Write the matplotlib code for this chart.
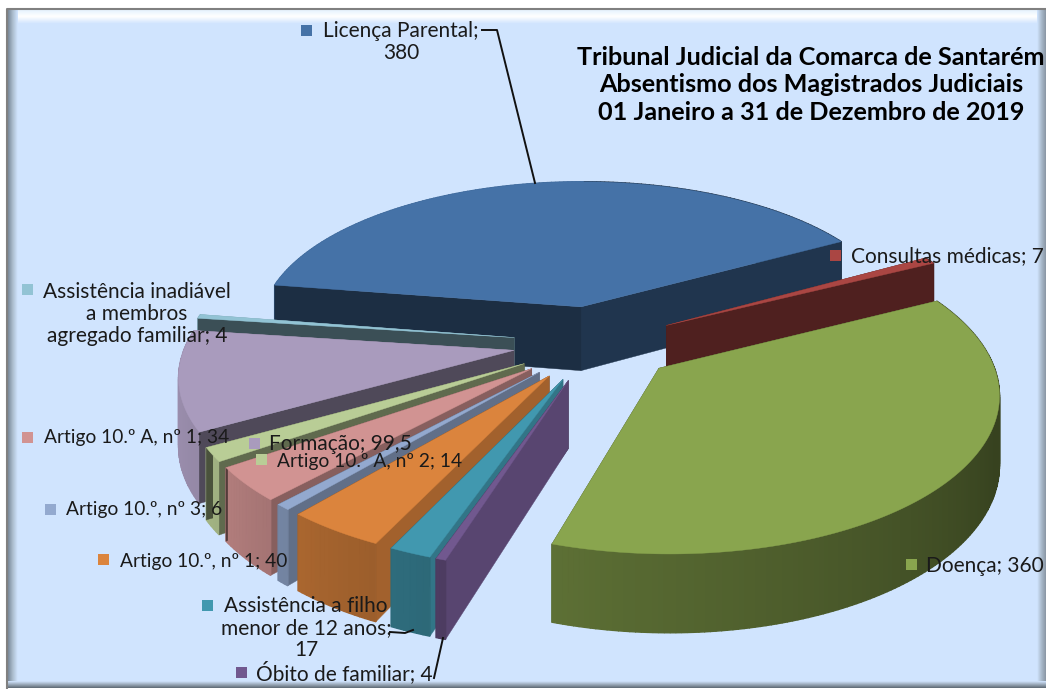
import numpy as np
import matplotlib
matplotlib.use("Agg")
import matplotlib.pyplot as plt
from matplotlib.patches import Polygon, Rectangle

# dados do grafico (sentido horario a partir da licenca parental)
categorias = ["Licença Parental", "Consultas médicas", "Doença", "Óbito de familiar",
              "Assistência a filho menor de 12 anos", "Artigo 10.º, nº 1", "Artigo 10.º, nº 3",
              "Artigo 10.º A, nº 1", "Artigo 10.º A, nº 2", "Formação",
              "Assistência inadiável a membros agregado familiar"]
valores = [380, 7, 360, 4, 17, 40, 6, 34, 14, 99.5, 4]
cores = ["#4572A7", "#AA4643", "#89A54E", "#71588F", "#4198AF", "#DB843D",
         "#93A9CF", "#D19392", "#B9CD96", "#A99BBD", "#92C3D4"]
titulo = "Tribunal Judicial da Comarca de Santarém\nAbsentismo dos Magistrados Judiciais\n01 Janeiro a 31 de Dezembro de 2019"

# rotulos: texto, posicao do texto, posicao do quadrado
rotulos_texto = ["Licença Parental;\n380", "Consultas médicas; 7", "Doença; 360", "Óbito de familiar; 4",
                 "Assistência a filho\nmenor de 12 anos;\n17", "Artigo 10.º, nº 1; 40", "Artigo 10.º, nº 3; 6",
                 "Artigo 10.º A, nº 1; 34", "Artigo 10.º A, nº 2; 14", "Formação; 99,5",
                 "Assistência inadiável\na membros\nagregado familiar; 4"]
rotulos_xy = [(401, 42), (947, 256), (985, 566), (344, 673), (306, 628), (204, 561), (144, 510),
              (137, 438), (370, 461), (340, 444), (137, 314)]
marcas_xy = [(306, 30), (835, 255), (911, 564), (241, 672), (207, 605), (103, 559), (50, 509),
             (27, 437), (261, 459), (254, 443), (27, 289)]

# projecao em perspectiva do disco
CX, CY = 595, 343
ESCALA_X, ESCALA_Y = 328, 152
PROF = 0.14
ALTURA = 66
EXPLOSAO = 0.25
INICIO = -81


def projeta(x, y, z=0.0):
    s = 1 / (1 + PROF * y)
    return CX + ESCALA_X * x * s, CY - ESCALA_Y * y * s + ALTURA * z * s


def escurece(cor, f):
    return tuple(c * f for c in matplotlib.colors.to_rgb(cor))


def luz_radial(n):
    return np.interp(n % 360, [100, 132, 150, 190], [0.82, 0.65, 0.47, 0.40])


def luz_borda(n):
    return np.interp(n % 360, [110, 190, 215, 240, 265], [0.40, 0.65, 0.75, 0.88, 0.93])


fig = plt.figure(figsize=(10.46, 6.89), dpi=100)
ax = fig.add_axes([0, 0, 1, 1])
ax.set_xlim(0, 1046)
ax.set_ylim(689, 0)
ax.axis("off")

# fundo e moldura em bisel
FX0, FX1, FY0, FY1 = 7, 1046, 9, 688
ax.add_patch(Rectangle((FX0, FY0), FX1 - FX0, FY1 - FY0, fc="#D0E4FE", ec="none", zorder=0))
ax.imshow(np.linspace(0, 1, 20).reshape(-1, 1), cmap=matplotlib.colors.LinearSegmentedColormap.from_list(
    "t", ["#E4F2FE", "#FFFFFF", "#D0E4FE"]), extent=(FX0, FX1, FY0 + 15, FY0), aspect="auto", zorder=1)
ax.imshow(np.linspace(0, 1, 20).reshape(1, -1), cmap=matplotlib.colors.LinearSegmentedColormap.from_list(
    "e", ["#6F7F8F", "#A9BACB", "#D0E4FE"]), extent=(FX0, FX0 + 11, FY1, FY0), aspect="auto", zorder=2)
ax.imshow(np.linspace(0, 1, 20).reshape(1, -1), cmap=matplotlib.colors.LinearSegmentedColormap.from_list(
    "d", ["#D0E4FE", "#A9BACB", "#8A97A5"]), extent=(FX1 - 9, FX1, FY1, FY0), aspect="auto", zorder=2)
ax.imshow(np.linspace(0, 1, 20).reshape(-1, 1), cmap=matplotlib.colors.LinearSegmentedColormap.from_list(
    "b", ["#D0E4FE", "#9AA9B8", "#5F6B76"]), extent=(FX0, FX1, FY1, FY1 - 7), aspect="auto", zorder=2)
ax.plot([FX0, FX0, FX1], [FY1, FY0, FY0], color="#808080", lw=1.5, zorder=3)
ax.set_xlim(0, 1046)
ax.set_ylim(689, 0)

# angulos de cada fatia a partir dos valores
total = sum(valores)
vao = np.cumsum([0] + valores) / total * 360 + INICIO
fatias = []
for i, cor in enumerate(cores):
    meio = np.radians((vao[i] + vao[i + 1]) / 2)
    fatias.append((np.cos(meio), i))
fatias.sort(reverse=True)

z = 5
for _, i in fatias:
    a0, a1 = vao[i], vao[i + 1]
    meio = np.radians((a0 + a1) / 2)
    ox, oy = EXPLOSAO * np.sin(meio), EXPLOSAO * np.cos(meio)
    cor = cores[i]
    arco = np.radians(np.linspace(a0, a1, max(4, int((a1 - a0) * 1.2))))
    xs, ys = ox + np.sin(arco), oy + np.cos(arco)

    faces = []
    # paredes radiais
    for ang, ex, ey, n in [(a0, xs[0], ys[0], a0 - 90), (a1, xs[-1], ys[-1], a1 + 90)]:
        pts = [projeta(ox, oy), projeta(ex, ey), projeta(ex, ey, 1), projeta(ox, oy, 1)]
        faces.append(((oy + ey) / 2, pts, escurece(cor, luz_radial(n)), False))
    # parede exterior
    for k in range(len(arco) - 1):
        pts = [projeta(xs[k], ys[k]), projeta(xs[k + 1], ys[k + 1]),
               projeta(xs[k + 1], ys[k + 1], 1), projeta(xs[k], ys[k], 1)]
        n = np.degrees((arco[k] + arco[k + 1]) / 2)
        faces.append(((ys[k] + ys[k + 1]) / 2 + 0.3, pts, escurece(cor, luz_borda(n)), True))
    faces.sort(key=lambda f: -f[0])
    for _, pts, c, borda in faces:
        ax.add_patch(Polygon(pts, closed=True, fc=c, ec=c, lw=1.0 if borda else 0.3, zorder=z))
        z += 0.001
    topo = [projeta(ox, oy)] + [projeta(a, b) for a, b in zip(xs, ys)]
    ax.add_patch(Polygon(topo, closed=True, fc=cor, ec=cor, lw=0.3, zorder=z))
    z += 1

# linhas de chamada
ax.plot([482, 497, 535], [30, 30, 183], color="#111111", lw=1.4, zorder=40)
ax.plot([390, 405, 413], [632, 633, 630], color="#111111", lw=1.4, zorder=40)
ax.plot([434, 443], [678, 638], color="#111111", lw=1.4, zorder=40)

# rotulos e quadrados
fonte = ["Lato", "DejaVu Sans"]
for i, texto in enumerate(rotulos_texto):
    tam = 13.8 if texto.startswith("Artigo") else 15
    ax.text(rotulos_xy[i][0], rotulos_xy[i][1], texto, ha="center", va="center", multialignment="center",
            fontsize=tam, color="#1A1A1A", family=fonte, linespacing=1.15, zorder=50)
    ax.add_patch(Rectangle((marcas_xy[i][0] - 5.5, marcas_xy[i][1] - 5.5), 11, 11, fc=cores[i], ec="none", zorder=49))

ax.text(811, 85, titulo, ha="center", va="center", multialignment="center", fontsize=18.2, fontweight="bold",
        color="black", family=fonte, linespacing=1.25, zorder=50)

fig.savefig("out.png", dpi=100, facecolor="white")
